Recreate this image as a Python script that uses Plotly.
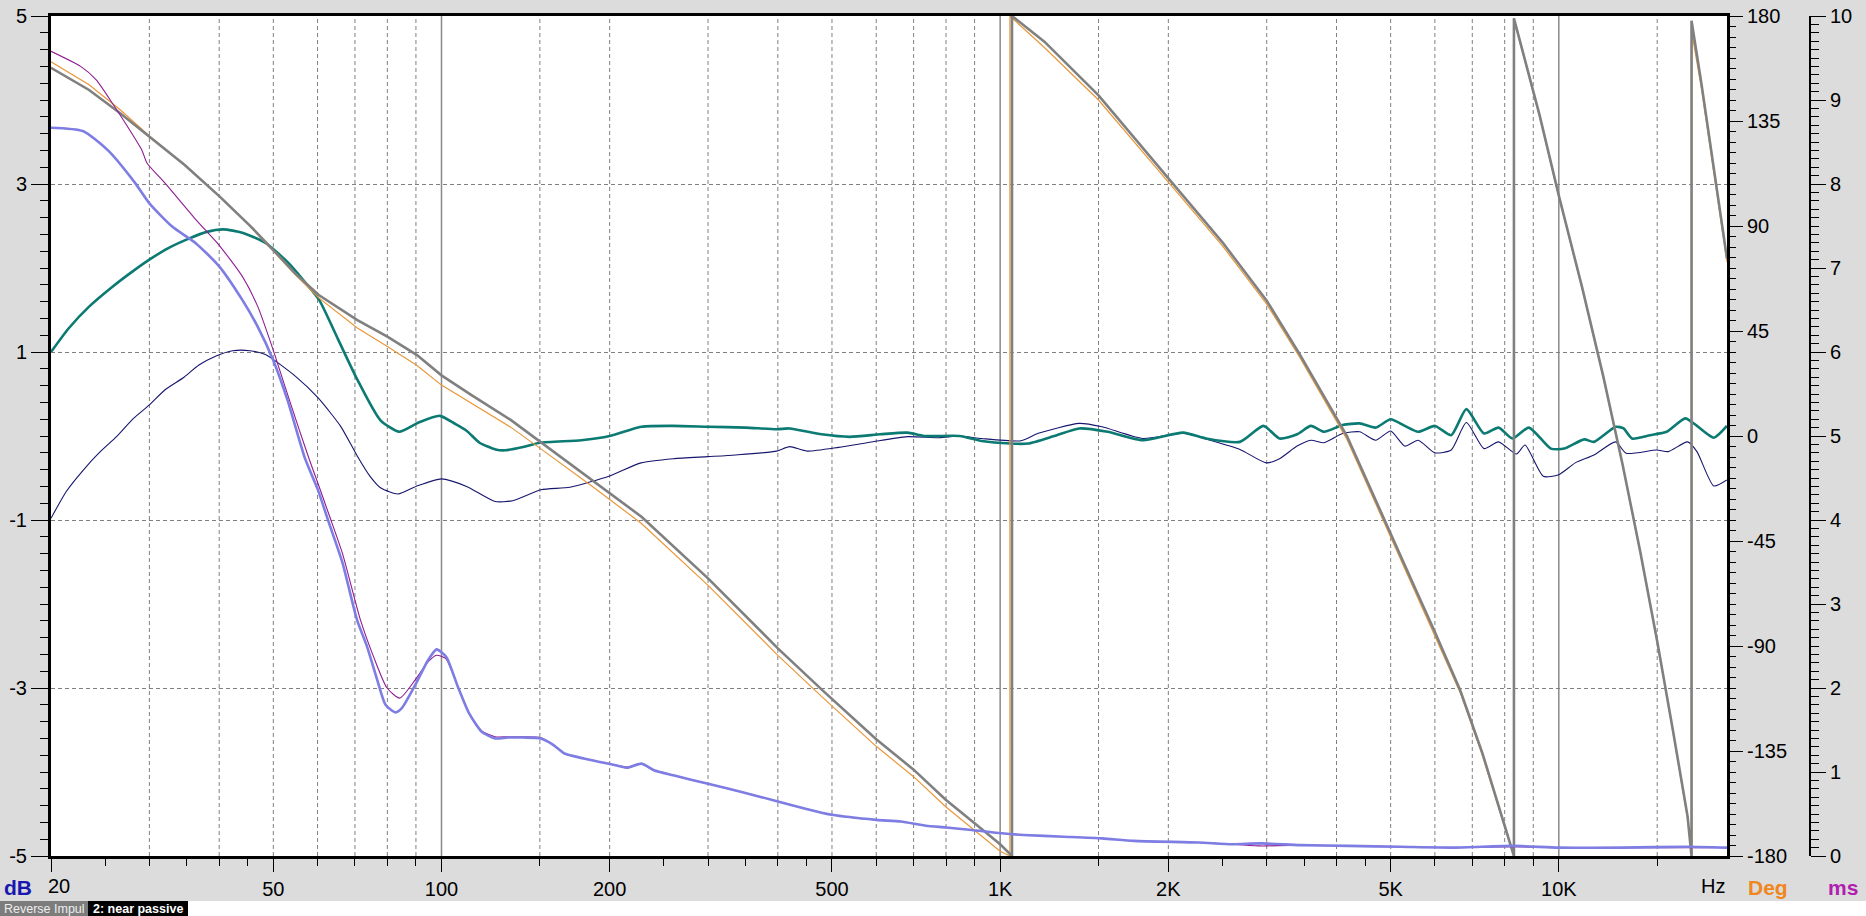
import math
import plotly.graph_objects as go

# ---------------- data ----------------
# Magnitude, measurement A (teal, thick) - dB
freq_mag_a = [20, 21.5, 23.4, 25.8, 28, 30, 32.5, 35.3, 38, 40.7, 44, 48.4, 53.2, 57, 60.4, 65.3, 70.7, 77.7,
              84, 91, 99.3, 106, 111, 117, 125, 130, 140, 150, 178, 200, 228, 260, 300, 350, 398, 420, 479,
              538, 610, 682, 731, 846, 927, 1043, 1121, 1250, 1385, 1557, 1801, 2125, 2336, 2687, 2960, 3163,
              3400, 3600, 3800, 4100, 4400, 4700, 5000, 5300, 5600, 6000, 6417, 6831, 7346, 7800, 8257, 8839,
              9676, 10230, 11100, 11560, 12640, 13060, 13520, 14570, 15600, 16840, 17670, 18940, 19990]
mag_a_db = [1.0, 1.28, 1.54, 1.78, 1.96, 2.10, 2.24, 2.35, 2.43, 2.46, 2.42, 2.30, 2.06, 1.83, 1.62, 1.15, 0.67, 0.19,
            0.05, 0.16, 0.24, 0.14, 0.06, -0.08, -0.16, -0.17, -0.13, -0.08, -0.05, 0.0, 0.11, 0.12, 0.11, 0.10, 0.08, 0.09, 0.02,
            -0.01, 0.02, 0.04, 0.0, 0.0, -0.06, -0.09, -0.09, 0.0, 0.09, 0.05, -0.05, 0.04, -0.03, -0.07, 0.12, -0.03,
            0.02, 0.12, 0.05, 0.13, 0.15, 0.10, 0.20, 0.12, 0.05, 0.12, 0.01, 0.32, 0.03, 0.10, -0.03, 0.10,
            -0.15, -0.15, -0.04, -0.07, 0.11, 0.09, -0.03, 0.01, 0.05, 0.21, 0.12, -0.02, 0.12]

# Magnitude, measurement B (navy, thin) - dB
freq_mag_b = [20, 21.3, 22.85, 24.5, 26.2, 28.1, 30, 32, 34.6, 36.8, 39.4, 42.3, 45.4, 48.4, 54.8, 60.2, 66, 70.7,
              74.5, 77.9, 83.6, 90, 100, 110.9, 124.8, 134, 150.7, 169.8, 200, 227.6, 260, 300, 336, 398, 420, 451,
              514, 592, 682, 777, 846, 927, 1090, 1170, 1385, 1521, 1801, 2125, 2393, 2687, 2995, 3163, 3400, 3600,
              3800, 4100, 4400, 4700, 5000, 5300, 5600, 6000, 6417, 6831, 7346, 7800, 8400, 8700, 9380, 10000,
              10700, 11560, 12640, 13200, 14960, 15700, 17000, 17670, 18940, 19990]
mag_b_db = [-0.98, -0.66, -0.405, -0.187, -0.008, 0.21, 0.37, 0.55, 0.70, 0.845, 0.95, 1.015, 1.015, 0.97, 0.71, 0.45, 0.115, -0.24,
            -0.48, -0.62, -0.69, -0.60, -0.51, -0.60, -0.78, -0.77, -0.64, -0.61, -0.476, -0.32, -0.27, -0.246, -0.226, -0.18, -0.127, -0.18,
            -0.135, -0.068, -0.008, -0.02, 0.0, -0.03, -0.056, 0.032, 0.15, 0.11, -0.03, 0.032, -0.056, -0.16, -0.32, -0.27, -0.12, -0.05,
            -0.08, 0.03, 0.05, -0.05, 0.06, -0.12, -0.05, -0.20, -0.167, 0.16, -0.15, -0.07, -0.214, -0.107, -0.48, -0.46,
            -0.32, -0.226, -0.07, -0.206, -0.167, -0.186, -0.07, -0.186, -0.595, -0.524]

# Phase, measurement A (gray, thick) - degrees (repeated frequency = wrap)
freq_phase_a = [20, 23.4, 26.6, 30, 34.7, 40.1, 45.3, 50, 54.7, 60.3, 70.7, 80, 90.4, 100, 113, 133, 150, 186, 228,
                300, 400, 481, 600, 700, 800, 900, 1000, 1050, 1050, 1200, 1500, 2050, 2500, 3000, 3432, 4176, 4887,
                5500, 6000, 6660, 7300, 8311, 8311, 9235, 10000, 11000, 12000, 13000, 14000, 15000, 16000, 17000,
                17280, 17280, 18000, 19000, 20000]
phase_a_deg = [157.8, 148.3, 138.3, 128.3, 116.1, 102.6, 90.4, 79.7, 69.7, 60.4, 49.7, 42.6, 34.7, 26.0, 17.6, 6.9, -2.4, -18.9, -34.6,
               -61, -91, -109, -130, -143, -156, -166, -175, -180, 180, 169, 146, 107.4, 83, 58, 35.3, 0, -36.8,
               -64, -84, -109, -136, -180, 179, 137.6, 103, 64, 26, -12, -50, -88, -126, -163,
               -180, 178, 151, 113, 76]

# Phase, measurement B (orange, thin) - degrees
freq_phase_b = [20, 23.4, 26.6, 30, 34.7, 40.1, 45.3, 50, 54.7, 60.3, 70.7, 80, 90.4, 100, 113, 133, 150, 186, 228,
                300, 400, 481, 600, 700, 800, 900, 1000, 1041, 1041, 1200, 1500, 2050, 2500, 3000, 3432, 4176, 4887,
                5500, 6000, 6660, 7300, 8300, 8300, 9235, 10000, 11000, 12000, 13000, 14000, 15000, 16000, 17000,
                17300, 17300, 18000, 19000, 20000]
phase_b_deg = [160.4, 150.5, 139.8, 128.6, 116.3, 102.4, 90.2, 79.4, 69.2, 59.2, 46.3, 38.4, 30.2, 21.8, 14.0, 3.8, -5.2, -21.5, -37.5,
               -64, -94, -112, -133, -146, -159, -169, -178, -180, 180, 166.5, 144, 105.8, 81.5, 56.5, 34, -1.5, -38,
               -65, -85, -110, -137, -180, 179, 137, 102.5, 63.5, 25.5, -12.5, -50.5, -88.5, -126.5, -164,
               -180, 173, 149, 111.5, 74.5]

# Group delay, measurement A (purple, thin) - ms
freq_gd_a = [20, 22.6, 24.1, 26.0, 27.2, 29.1, 29.7, 32, 36.4, 40, 44, 46.9, 50, 52.4, 55.8, 58, 60, 63, 66.5, 71.6,
             75.6, 79.9, 84.2, 89.8, 94.6, 98, 101.8, 106.9, 112, 118, 124.7, 131.5, 140, 150.4, 158, 166, 180, 192,
             205, 215, 228, 240, 260, 300, 350, 400, 450, 500, 600, 664, 737, 800, 889, 1006, 1101, 1300, 1522, 1735,
             2268, 2605, 2919, 3000, 3440, 4200, 5205, 6500, 8300, 10000, 13000, 17000, 20000]
gd_a_ms = [9.58, 9.40, 9.24, 8.92, 8.72, 8.40, 8.25, 8.01, 7.57, 7.27, 6.90, 6.54, 6.02, 5.60, 5.05, 4.72, 4.45, 4.05, 3.60, 2.81,
           2.37, 2.00, 1.88, 2.10, 2.31, 2.39, 2.35, 2.02, 1.70, 1.49, 1.42, 1.42, 1.42, 1.41, 1.33, 1.22, 1.16, 1.12,
           1.08, 1.06, 1.10, 1.02, 0.96, 0.86, 0.75, 0.65, 0.56, 0.49, 0.43, 0.41, 0.36, 0.34, 0.31, 0.27, 0.25, 0.23, 0.21, 0.18,
           0.16, 0.14, 0.12, 0.12, 0.13, 0.12, 0.11, 0.10, 0.11, 0.10, 0.10, 0.10, 0.10]

# Group delay, measurement B (light blue, thick) - ms
freq_gd_b = [20, 22.8, 25.3, 28.3, 30, 33, 36.4, 40, 44, 46.9, 50, 53, 57, 60, 63, 66.5, 70.6, 73.6, 76.7, 79.4,
             82.8, 84.9, 89.8, 94.6, 98, 102, 106.9, 112, 118, 124.7, 131.5, 140, 150.4, 158, 166, 180, 192, 205,
             215, 228, 240, 260, 300, 350, 400, 450, 500, 600, 664, 737, 800, 889, 1006, 1101, 1300, 1522, 1735,
             2268, 2605, 2919, 3440, 4200, 5205, 6500, 8300, 10000, 13000, 17000, 20000]
gd_b_ms = [8.67, 8.63, 8.40, 8.01, 7.77, 7.49, 7.29, 7.02, 6.62, 6.30, 5.90, 5.43, 4.73, 4.37, 3.95, 3.49, 2.81, 2.49, 2.10, 1.80,
           1.71, 1.76, 2.04, 2.33, 2.46, 2.37, 2.02, 1.70, 1.48, 1.40, 1.41, 1.41, 1.40, 1.33, 1.22, 1.16, 1.12, 1.08,
           1.05, 1.10, 1.02, 0.96, 0.86, 0.75, 0.65, 0.56, 0.49, 0.43, 0.41, 0.36, 0.34, 0.31, 0.27, 0.25, 0.23, 0.21, 0.18,
           0.16, 0.14, 0.15, 0.13, 0.12, 0.11, 0.10, 0.12, 0.10, 0.10, 0.11, 0.10]

# axes / ticks
x_tick_vals = [20, 50, 100, 200, 500, 1000, 2000, 5000, 10000]
x_tick_text = ["", "50", "100", "200", "500", "1K", "2K", "5K", "10K"]
x_minor_vals = [25, 30, 35, 40, 45, 60, 70, 80, 90, 150, 250, 300, 350, 400, 450, 600, 700, 800, 900,
                1500, 2500, 3000, 3500, 4000, 4500, 6000, 7000, 8000, 9000, 15000]
x_grid_dashed = [30, 40, 50, 60, 70, 80, 90, 150, 200, 300, 400, 500, 600, 700, 800, 900,
                 1500, 2000, 3000, 4000, 5000, 6000, 7000, 8000, 9000, 15000]
x_grid_solid = [100, 1000, 10000]
db_tick_vals = [-5, -3, -1, 1, 3, 5]
deg_tick_vals = [-180, -135, -90, -45, 0, 45, 90, 135, 180]
ms_tick_vals = [0, 1, 2, 3, 4, 5, 6, 7, 8, 9, 10]

# ---------------- layout geometry ----------------
W, H = 1866, 916
L, R, T, B = 51, 40, 16, 60
PW, PH = W - L - R, H - T - B
PLOT_RIGHT = 1727
MS_AXIS_X = 1810
FONT = "Liberation Sans, Arial, sans-serif"


def xp(px):
    return (px - L) / PW


def yp(py):
    return (H - B - py) / PH


fig = go.Figure()

fig.add_trace(go.Scatter(x=freq_mag_b, y=mag_b_db, mode="lines", yaxis="y", name="mag B",
                         line=dict(color="#16166e", width=1.1, shape="spline", smoothing=0.6)))
fig.add_trace(go.Scatter(x=freq_mag_a, y=mag_a_db, mode="lines", yaxis="y", name="mag A",
                         line=dict(color="#0b7a72", width=2.6, shape="spline", smoothing=0.6)))
fig.add_trace(go.Scatter(x=freq_phase_b, y=phase_b_deg, mode="lines", yaxis="y2", name="phase B",
                         line=dict(color="#e8973a", width=1.2)))
fig.add_trace(go.Scatter(x=freq_phase_a, y=phase_a_deg, mode="lines", yaxis="y2", name="phase A",
                         line=dict(color="#808080", width=2.6)))
fig.add_trace(go.Scatter(x=freq_gd_a, y=gd_a_ms, mode="lines", yaxis="y3", name="GD A",
                         line=dict(color="#8e1c92", width=1.1, shape="spline", smoothing=0.6)))
fig.add_trace(go.Scatter(x=freq_gd_b, y=gd_b_ms, mode="lines", yaxis="y3", name="GD B",
                         line=dict(color="#7d7de3", width=2.6, shape="spline", smoothing=0.6)))

shapes = []
for f in x_grid_dashed:
    shapes.append(dict(type="line", xref="x", yref="paper", x0=f, x1=f, y0=0, y1=1, layer="below",
                       line=dict(color="#808080", width=1, dash="4px,3px")))
for f in x_grid_solid:
    shapes.append(dict(type="line", xref="x", yref="paper", x0=f, x1=f, y0=0, y1=1, layer="below",
                       line=dict(color="#8a8a8a", width=1.5)))
# bottom white strip and status labels
shapes.append(dict(type="rect", xref="paper", yref="paper", x0=xp(0), x1=xp(W), y0=yp(916), y1=yp(901),
                   fillcolor="white", line=dict(width=0), layer="above"))
shapes.append(dict(type="rect", xref="paper", yref="paper", x0=xp(0), x1=xp(88), y0=yp(916), y1=yp(901),
                   fillcolor="#7c7c7c", line=dict(width=0), layer="above"))
shapes.append(dict(type="rect", xref="paper", yref="paper", x0=xp(88), x1=xp(188), y0=yp(916), y1=yp(901),
                   fillcolor="black", line=dict(width=0), layer="above"))

annotations = [
    dict(text="<b>dB</b>", x=xp(18), y=yp(887), font=dict(size=21, color="#1818b0", family=FONT)),
    dict(text="20", x=xp(58.5), y=yp(886), font=dict(size=20, color="black", family=FONT)),
    dict(text="Hz", x=xp(1712.5), y=yp(886), font=dict(size=20, color="black", family=FONT)),
    dict(text="<b>Deg</b>", x=xp(1767.5), y=yp(887), font=dict(size=21, color="#f0861e", family=FONT)),
    dict(text="<b>ms</b>", x=xp(1843), y=yp(887), font=dict(size=21, color="#b01eb0", family=FONT)),
    dict(text="Reverse Impul", x=xp(44), y=yp(908.5), font=dict(size=12.5, color="#eeeeee", family=FONT)),
    dict(text="<b>2: near passive</b>", x=xp(138), y=yp(908.5), font=dict(size=12.5, color="white", family=FONT)),
]
for a in annotations:
    a.update(xref="paper", yref="paper", showarrow=False, xanchor="center", yanchor="middle")

tickfont = dict(size=20, color="black", family=FONT)

fig.update_layout(
    width=W, height=H,
    margin=dict(l=L, r=R, t=T, b=B, autoexpand=False),
    paper_bgcolor="#dcdcdc",
    plot_bgcolor="white",
    showlegend=False,
    font=dict(family=FONT, color="black"),
    shapes=shapes,
    annotations=annotations,
    xaxis=dict(type="log", range=[math.log10(20), math.log10(20000)], domain=[0, (PLOT_RIGHT - L) / PW],
               tickmode="array", tickvals=x_tick_vals, ticktext=x_tick_text,
               ticks="outside", ticklen=13, tickwidth=1, tickcolor="black", tickfont=tickfont,
               showline=True, linecolor="black", linewidth=3, mirror=True,
               showgrid=False, zeroline=False,
               minor=dict(tickmode="array", tickvals=x_minor_vals, ticks="outside", ticklen=7,
                          tickwidth=1, tickcolor="black", showgrid=False)),
    yaxis=dict(range=[-5, 5], tickmode="array", tickvals=db_tick_vals, ticktext=[str(v) for v in db_tick_vals],
               ticks="outside", ticklen=17, tickwidth=1, tickcolor="black", tickfont=tickfont,
               showline=True, linecolor="black", linewidth=3, mirror=True,
               showgrid=True, gridcolor="#808080", gridwidth=1, griddash="4px,3px", zeroline=False,
               minor=dict(tickmode="linear", tick0=-5, dtick=0.2, ticks="outside", ticklen=8,
                          tickwidth=1, tickcolor="black", showgrid=False)),
    yaxis2=dict(range=[-180, 180], overlaying="y", side="right", anchor="x",
                tickmode="array", tickvals=deg_tick_vals, ticktext=[str(v) for v in deg_tick_vals],
                ticks="outside", ticklen=15, tickwidth=1, tickcolor="black", tickfont=tickfont,
                showline=False, showgrid=False, zeroline=False,
                minor=dict(tickmode="linear", tick0=-180, dtick=4.5, ticks="outside", ticklen=8,
                           tickwidth=1, tickcolor="black", showgrid=False)),
    yaxis3=dict(range=[0, 10], overlaying="y", side="right", anchor="free", position=xp(MS_AXIS_X),
                tickmode="array", tickvals=ms_tick_vals, ticktext=[str(v) for v in ms_tick_vals],
                ticks="outside", ticklen=15, tickwidth=1, tickcolor="black", tickfont=tickfont,
                showline=True, linecolor="black", linewidth=2, showgrid=False, zeroline=False,
                minor=dict(tickmode="linear", tick0=0, dtick=0.1, ticks="outside", ticklen=8,
                           tickwidth=1, tickcolor="black", showgrid=False)),
)

fig.write_html("out.html", config={"displayModeBar": False},
               post_script="document.body.style.margin='0';document.body.style.overflow='hidden';")
